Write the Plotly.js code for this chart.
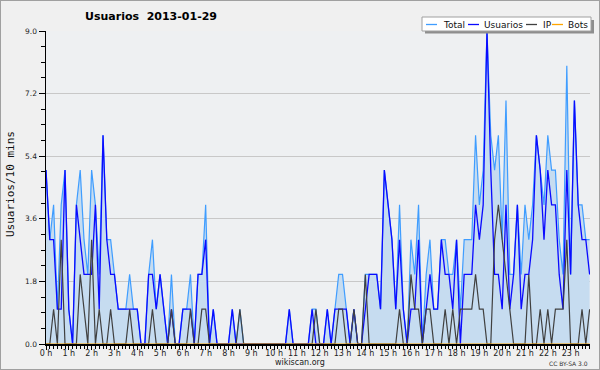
<!DOCTYPE html>
<html>
<head>
<meta charset="utf-8">
<script src="https://cdn.plot.ly/plotly-3.0.1.min.js"></script>
<style>
html,body{margin:0;padding:0;background:#f0f0f0;}
#wrap{position:relative;width:600px;height:370px;}
#chart{width:600px;height:370px;}
#frame{position:absolute;left:0;top:0;width:600px;height:370px;box-sizing:border-box;border:1px solid #a0a0a0;pointer-events:none;z-index:10;}
</style>
</head>
<body>
<div id="wrap"><div id="chart"></div><div id="frame"></div></div>
<script>
// Values per 10-minute slot (144 slots, 00:00 .. 23:50)
const total = [
 5,3,4,1,4,5,1,0,4,5,3,2,5,4,2,6,3,3,2,1,1,1,2,1,
 1,0,0,2,3,1,2,1,0,2,0,0,1,1,2,0,2,2,4,0,1,0,0,0,
 0,1,0,1,0,0,0,0,0,0,0,0,0,0,0,0,1,0,0,0,0,0,
 1,1,0,0,1,0,1,2,2,1,0,1,0,0,2,2,2,2,1,5,4,3,1,4,1,
 0,3,2,4,0,2,3,1,1,3,3,2,2,3,1,3,3,3,6,4,5,9,6,
 5,6,3,7,2,2,4,2,4,3,4,6,5,4,6,5,5,3,2,8,2,7,4,4,3,3
];
const usuarios = [
 5,3,3,1,1,5,1,0,4,3,2,2,2,4,1,6,3,2,2,1,1,1,1,1,
 1,0,0,2,2,1,2,1,0,1,0,0,1,1,1,0,2,2,3,0,1,0,0,0,
 0,1,0,0,0,0,0,0,0,0,0,0,0,0,0,0,1,0,0,0,0,0,
 1,0,0,0,1,0,1,1,1,1,0,1,0,0,1,2,2,2,1,5,4,3,1,3,1,
 0,1,1,3,0,1,2,1,1,3,2,2,1,3,0,2,2,2,4,3,4,9,5,
 2,2,1,4,1,2,4,1,2,2,3,6,5,3,5,4,4,2,1,5,2,7,4,3,3,2
];
const ip = [
 0,0,1,0,3,0,0,0,0,2,1,0,3,0,1,0,0,1,0,0,0,0,1,0,
 0,0,0,0,1,0,0,0,0,1,0,0,0,0,1,0,0,1,1,0,0,0,0,0,
 0,0,0,1,0,0,0,0,0,0,0,0,0,0,0,0,0,0,0,0,0,0,
 0,1,0,0,0,0,0,1,1,0,0,1,0,0,2,0,0,0,0,0,0,0,0,1,0,
 0,2,1,1,0,1,1,0,0,0,1,0,1,0,1,1,1,1,2,1,1,0,0,
 3,4,3,2,1,0,0,0,0,2,0,0,1,0,1,0,1,1,1,3,0,0,0,1,0,1
];
const bots = [
 0,0,0,0,0,0,0,0,0,0,0,0,0,0,0,0,0,0,0,0,0,0,0,0,
 0,0,0,0,0,0,0,0,0,0,0,0,0,0,0,0,0,0,0,0,0,0,0,0,
 0,0,0,0,0,0,0,0,0,0,0,0,0,0,0,0,0,0,0,0,0,0,0,0,
 0,0,0,0,0,0,0,0,0,0,0,0,0,0,0,0,0,0,0,0,0,0,0,0,
 0,0,0,0,0,0,0,0,0,0,0,0,0,0,0,0,0,0,0,0,0,0,0,0,
 0,0,0,0,0,0,0,0,0,0,0,0,0,0,0,0,0,0,0,0,0,0,0,0
];
const seriesNames = ["Total", "Usuarios", "IP", "Bots"];
const seriesColors = ["#3f9dff", "#0a0aff", "#404040", "#ffa500"];
const titleText = "Usuarios\u00a0\u00a02013-01-29";
const yTitle = "Usuarios/10 mins";

// time axis in hours: slot index / 6
const hours = total.map((_, i) => i / 6);

const L = 46, T = 31, W = 544, H = 313;
const X = px => (px - L) / W;
const Y = py => (T + H - py) / H;

const traces = [
  {x: hours, y: total, type: 'scatter', mode: 'lines', name: seriesNames[0],
   fill: 'tozeroy', fillcolor: '#c6dcf0', line: {color: seriesColors[0], width: 1.2}},
  {x: hours, y: usuarios, type: 'scatter', mode: 'lines', name: seriesNames[1],
   line: {color: seriesColors[1], width: 1.3}},
  {x: hours, y: ip, type: 'scatter', mode: 'lines', name: seriesNames[2],
   line: {color: seriesColors[2], width: 1.2}},
  {x: hours, y: bots, type: 'scatter', mode: 'lines', name: seriesNames[3],
   line: {color: seriesColors[3], width: 1.2}}
];

// custom legend
const legendLines = [[426, 437], [468, 479], [526, 537], [552, 563]];
const legendText = [442, 483, 542, 567];
const shapes = [
  {type: 'rect', xref: 'paper', yref: 'paper', x0: X(425), x1: X(594), y0: Y(20), y1: Y(33.5),
   fillcolor: '#8e8e8e', line: {width: 0}, layer: 'above'},
  {type: 'rect', xref: 'paper', yref: 'paper', x0: X(422), x1: X(591), y0: Y(17), y1: Y(31),
   fillcolor: '#ffffff', line: {color: '#a0a0a0', width: 1}, layer: 'above'}
];
const annotations = [];
seriesNames.forEach((n, k) => {
  shapes.push({type: 'line', xref: 'paper', yref: 'paper',
    x0: X(legendLines[k][0]), x1: X(legendLines[k][1]), y0: Y(24.5), y1: Y(24.5),
    line: {color: seriesColors[k], width: 1.3}, layer: 'above'});
  annotations.push({xref: 'paper', yref: 'paper', x: X(legendText[k]), y: Y(24.5),
    xanchor: 'left', yanchor: 'middle', showarrow: false, text: n, borderpad: 0,
    font: {family: 'DejaVu Sans', size: 9, color: '#111'}});
});
annotations.push({xref: 'paper', yref: 'paper', x: X(10), y: Y(184), textangle: -90,
  xanchor: 'center', yanchor: 'middle', showarrow: false, text: yTitle,
  font: {family: 'DejaVu Sans Mono', size: 11, color: '#111'}});
annotations.push({xref: 'paper', yref: 'paper', x: X(300), y: Y(362.5), xanchor: 'center',
  yanchor: 'middle', showarrow: false, text: 'wikiscan.org', borderpad: 0,
  font: {family: 'DejaVu Sans', size: 8, color: '#222'}});
annotations.push({xref: 'paper', yref: 'paper', x: X(589), y: Y(363), xanchor: 'right',
  yanchor: 'middle', showarrow: false, text: 'CC BY-SA 3.0', borderpad: 0,
  font: {family: 'DejaVu Sans', size: 6, color: '#333'}});

const layout = {
  width: 600, height: 370,
  margin: {l: L, r: 600 - L - W, t: T, b: 370 - T - H, pad: 0},
  paper_bgcolor: '#f0f0f0', plot_bgcolor: '#eef0f2',
  showlegend: false,
  title: {text: '<b>' + titleText + '</b>', xref: 'container', yref: 'container',
    x: 151 / 600, y: 1 - 16 / 370, xanchor: 'center', yanchor: 'middle',
    font: {family: 'DejaVu Sans', size: 11, color: '#000'}},
  xaxis: {range: [0, 23.85], tickmode: 'linear', tick0: 0, dtick: 1, ticksuffix: ' h',
    ticks: 'outside', ticklen: 4, tickwidth: 1, tickcolor: '#000', ticklabelstandoff: -3,
    showline: true, linecolor: '#000', linewidth: 1.5, showgrid: false, zeroline: false,
    tickfont: {family: 'DejaVu Sans', size: 8, color: '#222'},
    minor: {tickmode: 'linear', tick0: 0, dtick: 1 / 6, ticklen: 3, tickwidth: 1, tickcolor: '#000', showgrid: false},
    fixedrange: true},
  yaxis: {range: [0, 9], tickmode: 'linear', tick0: 0, dtick: 1.8, tickformat: '.1f',
    ticks: 'outside', ticklen: 6, tickwidth: 1, tickcolor: '#000',
    showline: true, linecolor: '#000', linewidth: 1.5,
    showgrid: true, gridcolor: '#c8c8c8', gridwidth: 1, zeroline: false,
    tickfont: {family: 'DejaVu Sans', size: 7.5, color: '#222'},
    minor: {tickmode: 'linear', tick0: 0, dtick: 0.45, ticklen: 4, tickwidth: 1, tickcolor: '#000', showgrid: false},
    fixedrange: true},
  shapes: shapes,
  annotations: annotations
};

Plotly.newPlot('chart', traces, layout, {displayModeBar: false, staticPlot: true});
</script>
</body>
</html>
